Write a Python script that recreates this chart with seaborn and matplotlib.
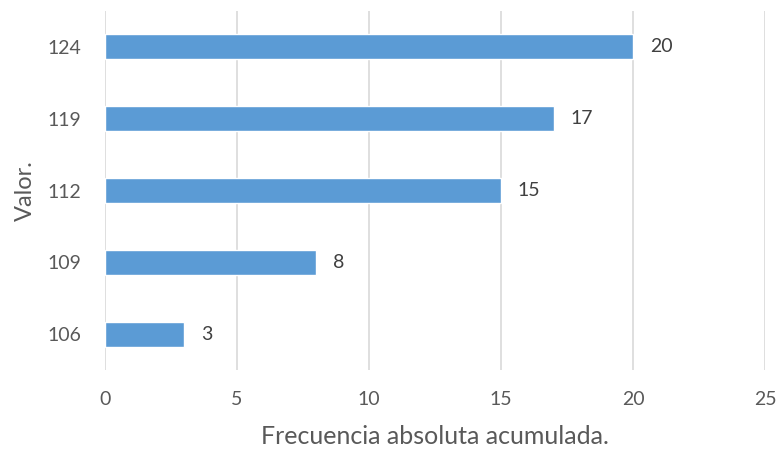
import matplotlib
matplotlib.use("Agg")
import matplotlib.pyplot as plt
import seaborn as sns
import pandas as pd

categories = ["124", "119", "112", "109", "106"]
values = [20, 17, 15, 8, 3]
x_ticks = [0, 5, 10, 15, 20, 25]

sns.set_theme(style="white")
plt.rcParams["font.family"] = ["Lato", "DejaVu Sans"]

df = pd.DataFrame({"Valor": categories, "Frecuencia": values})

fig = plt.figure(figsize=(7.81, 4.51), dpi=100)
ax = fig.add_axes([0.1344, 0.1796, 0.8451, 0.7960])

sns.barplot(data=df, y="Valor", x="Frecuencia", order=categories, color="#5B9BD5",
            width=0.35, saturation=1, ax=ax, zorder=3)

ax.set_xlim(0, 25)
ax.set_xticks(x_ticks)
ax.grid(axis="x", color="#D9D9D9", linewidth=1.2, zorder=0)
ax.grid(axis="y", visible=False)
for s in ax.spines.values():
    s.set_visible(False)

txt = "#595959"
ax.tick_params(axis="both", length=0, labelsize=14, colors=txt)
ax.tick_params(axis="x", pad=15)
ax.tick_params(axis="y", pad=17)

for c in ax.containers:
    ax.bar_label(c, labels=[str(v) for v in values], padding=12, fontsize=14, color="#404040")

ax.set_xlabel("Frecuencia absoluta acumulada.", fontsize=18, color=txt, labelpad=12)
ax.set_ylabel("Valor.", fontsize=17, color=txt)
ax.yaxis.set_label_coords(-0.104, 0.5)

fig.savefig("out.png", dpi=100)
